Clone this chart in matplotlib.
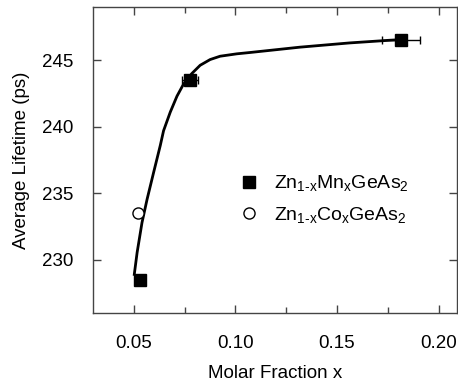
import matplotlib
matplotlib.use("Agg")
import matplotlib.pyplot as plt
from matplotlib.lines import Line2D
from matplotlib.ticker import MultipleLocator

plt.rcParams['font.family'] = ['Liberation Sans', 'DejaVu Sans']
plt.rcParams['mathtext.fontset'] = 'custom'
plt.rcParams['mathtext.rm'] = 'Liberation Sans'
plt.rcParams['mathtext.it'] = 'Liberation Sans'

# Zn1-xMnxGeAs2 data
mn_x = [0.0529, 0.0778, 0.1816]
mn_y = [228.5, 243.5, 246.5]
mn_xerr = [0.0, 0.004, 0.0094]

# Zn1-xCoxGeAs2 data
co_x = [0.052]
co_y = [233.5]

# fitted curve
fit_x = [0.0503, 0.0517, 0.0541, 0.0566, 0.0598, 0.0631, 0.0647, 0.0680,
         0.0713, 0.0745, 0.0786, 0.0827, 0.0876, 0.0925, 0.1007, 0.1072,
         0.1317, 0.1562, 0.1758, 0.1816]
fit_y = [228.9, 230.55, 232.8, 234.55, 236.56, 238.6, 239.7, 241.1,
         242.3, 243.2, 244.0, 244.62, 245.05, 245.3, 245.48, 245.58,
         245.98, 246.3, 246.5, 246.55]

fig = plt.figure(figsize=(4.58, 3.83), dpi=100)
ax = fig.add_axes([93/458, 1 - 313/383, (457 - 93)/458, (313 - 7)/383])

ax.plot(fit_x, fit_y, color='black', lw=2, zorder=2)
ax.errorbar(mn_x, mn_y, xerr=mn_xerr, fmt='s', color='black', ms=9,
            elinewidth=1, capsize=3, zorder=3)
ax.plot(co_x, co_y, 'o', mfc='white', mec='black', ms=8, mew=1, zorder=3)

ax.set_xlim(0.03, 0.209)
ax.set_ylim(226, 249)
ax.set_xticks([0.05, 0.10, 0.15, 0.20])
ax.set_xticklabels(['0.05', '0.10', '0.15', '0.20'])
ax.xaxis.set_minor_locator(MultipleLocator(0.025))
ax.set_yticks([230, 235, 240, 245])
ax.tick_params(which='both', direction='in', top=True, right=True,
               labelsize=13.5, length=6, width=1, color='#444444')
ax.tick_params(axis='x', pad=16)
ax.tick_params(axis='y', pad=14)
ax.tick_params(which='minor', length=4)
for s in ax.spines.values():
    s.set_color('#444444')
    s.set_linewidth(1)

ax.set_xlabel('Molar Fraction x', fontsize=13.5, labelpad=9)
ax.set_ylabel('Average Lifetime (ps)', fontsize=13.5, labelpad=9)

handles = [
    Line2D([], [], ls='none', marker='s', color='black', ms=9),
    Line2D([], [], ls='none', marker='o', mfc='white', mec='black', ms=8, mew=1),
]
labels = [r'$\mathregular{Zn_{1\text{-}x}Mn_xGeAs_2}$',
          r'$\mathregular{Zn_{1\text{-}x}Co_xGeAs_2}$']
ax.legend(handles, labels, loc='center left', bbox_to_anchor=(0.354, 0.372),
          frameon=False, fontsize=14, handletextpad=0.8, labelspacing=0.6,
          handlelength=1.0)

fig.savefig('out.png', dpi=100)
